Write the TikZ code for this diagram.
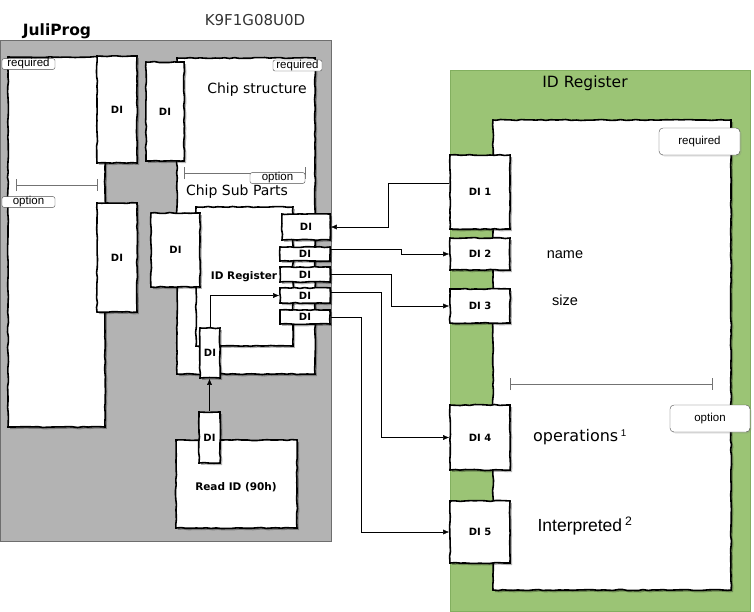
\documentclass[tikz,border=0pt]{standalone}
\usepackage{fontspec}
\setmainfont{Liberation Sans}
\newfontfamily\sketchfont{DejaVu Sans}
\definecolor{framegray}{RGB}{179,179,179}
\definecolor{frameedge}{RGB}{110,110,110}
\definecolor{reggreen}{RGB}{155,196,117}
\definecolor{reggreenedge}{RGB}{130,175,95}
\usetikzlibrary{arrows.meta, shadows, decorations.pathmorphing}

\begin{document}
\begin{tikzpicture}[
    x=1pt, y=-1pt,
    frame/.style={rectangle, draw=frameedge, inner sep=0pt},
    sheet/.style={rectangle, draw=black, line width=1.6pt, fill=white, inner sep=0pt,
                  decorate, decoration={random steps, segment length=5pt, amplitude=0.5pt},
                  drop shadow={shadow xshift=2pt, shadow yshift=-2pt, fill=black, opacity=.3}},
    dibox/.style={sheet, font=\sketchfont\bfseries\fontsize{10}{11}\selectfont},
    tag/.style={rectangle, rounded corners=2pt, draw=black!70, fill=white, inner sep=0pt,
                font=\fontsize{11.5}{10}\selectfont},
    bigtag/.style={rectangle, rounded corners=4pt, draw=black!70, fill=white, inner sep=0pt,
                   font=\fontsize{11.5}{12}\selectfont,
                   drop shadow={shadow xshift=1.5pt, shadow yshift=-1.5pt, opacity=.2}},
    arrow/.style={-{Latex[length=6pt, width=5pt]}, thin},
    dimline/.style={{Bar[width=12pt]}-{Bar[width=12pt]}, draw=black!55, thin},
    sketch/.style={font=\sketchfont\fontsize{14}{16}\selectfont}
]
\useasboundingbox (0,0) rectangle (754,611);

% chip side
\node[frame, fill=framegray, minimum width=331pt, minimum height=501pt] (chip) at (165.5,290.5) {};
\node[font=\sketchfont\bfseries\fontsize{15.5}{16}\selectfont] (juliname) at (57,31) {JuliProg};
\node[sketch, font=\sketchfont\fontsize{15}{16}\selectfont, text=black!80] (chipname) at (255,20) {K9F1G08U0D};

\node[sheet, minimum width=97pt, minimum height=370pt] (juli) at (56.5,242) {};
\node[dibox, minimum width=40pt, minimum height=107pt] (julidia) at (117,109.5) {DI};
\node[dibox, minimum width=40pt, minimum height=109pt] (julidib) at (117,257.5) {DI};
\node[tag, minimum width=53pt, minimum height=10pt] (julireq) at (28.5,64) {required};
\draw[dimline] (16,185) -- (97,185);
\node[tag, minimum width=53pt, minimum height=10pt] (juliopt) at (28.5,202) {option};

\node[sheet, minimum width=138pt, minimum height=316pt] (struct) at (246,216) {};
\node[dibox, minimum width=38pt, minimum height=99pt] (structdi) at (165,111.5) {DI};
\node[tag, minimum width=49pt, minimum height=11pt] (structreq) at (297.5,65.5) {required};
\node[sketch] (structname) at (257,90) {Chip structure};
\draw[dimline] (184,173) -- (305,173);
\node[tag, minimum width=55pt, minimum height=10pt] (structopt) at (277.5,178) {option};
\node[sketch] (subname) at (237,192) {Chip Sub Parts};

\node[sheet, minimum width=97pt, minimum height=139pt] (subreg) at (244.5,276.5) {};
\node[font=\sketchfont\bfseries\fontsize{10.5}{11}\selectfont] (subregname) at (244,277) {ID Register};
\node[dibox, minimum width=49pt, minimum height=74pt] (subdi) at (175.5,250) {DI};

\node[dibox, minimum width=48pt, minimum height=26pt] (chipa) at (306,227) {DI};
\node[dibox, minimum width=50pt, minimum height=14pt] (chipb) at (305,254) {DI};
\node[dibox, minimum width=50pt, minimum height=15pt] (chipc) at (305,274.5) {DI};
\node[dibox, minimum width=50pt, minimum height=15pt] (chipd) at (305,295.5) {DI};
\node[dibox, minimum width=50pt, minimum height=14pt] (chipe) at (305,317) {DI};
\node[dibox, minimum width=20pt, minimum height=50pt] (lowdi) at (210,353) {DI};

\node[sheet, minimum width=121pt, minimum height=88pt] (readid) at (236.5,484) {};
\node[font=\sketchfont\bfseries\fontsize{10.5}{11}\selectfont] (readname) at (236,487) {Read ID (90h)};
\node[dibox, minimum width=21pt, minimum height=51pt] (readdi) at (209.5,437.5) {DI};

% register side
\node[frame, draw=reggreenedge, fill=reggreen, minimum width=300pt, minimum height=541pt] (reg) at (600,340.5) {};
\node[sketch, font=\sketchfont\fontsize{15.5}{16}\selectfont] (regname) at (585,83) {ID Register};
\node[sheet, minimum width=238pt, minimum height=470pt] (regsheet) at (612,355) {};
\node[bigtag, minimum width=81pt, minimum height=27pt] (regreq) at (699.5,141.5) {required};
\draw[dimline] (510,384) -- (712,384);
\node[bigtag, minimum width=80pt, minimum height=27pt] (regopt) at (710,418.5) {option};

\node[dibox, minimum width=60pt, minimum height=74pt] (regdi1) at (480,192) {DI 1};
\node[dibox, minimum width=60pt, minimum height=32pt] (regdi2) at (480,254) {DI 2};
\node[dibox, minimum width=60pt, minimum height=34pt] (regdi3) at (480,306) {DI 3};
\node[dibox, minimum width=60pt, minimum height=65pt] (regdi4) at (480,437.5) {DI 4};
\node[dibox, minimum width=60pt, minimum height=62pt] (regdi5) at (480,532) {DI 5};

\node[font=\fontsize{14.5}{15}\selectfont] (fname) at (565,255) {name};
\node[font=\fontsize{14.5}{15}\selectfont] (fsize) at (565,300) {size};
\node[font=\sketchfont\fontsize{16}{17}\selectfont] (fops) at (580,437) {operations\,{\normalfont\fontsize{14}{14}\selectfont\textsuperscript{1}}};
\node[font=\fontsize{17.5}{18}\selectfont] (finterp) at (585,526) {Interpreted\,\textsuperscript{2}};

% connectors
\draw[arrow] ([yshift=9pt]regdi1.west) -- ++(-61,0) |- (chipa.east);
\draw[arrow] ([yshift=5pt]chipb.east) -- ++(70,0) |- (regdi2.west);
\draw[arrow] (chipc.east) -- ++(60,0) |- (regdi3.west);
\draw[arrow] ([yshift=3pt]chipd.east) -- ++(50,0) |- (regdi4.west);
\draw[arrow] (chipe.east) -- ++(30,0) |- (regdi5.west);
\draw[arrow] (lowdi.north) |- (chipd.west);
\draw[arrow] (readdi.north) -- (readdi.north |- lowdi.south);

\end{tikzpicture}
\end{document}
